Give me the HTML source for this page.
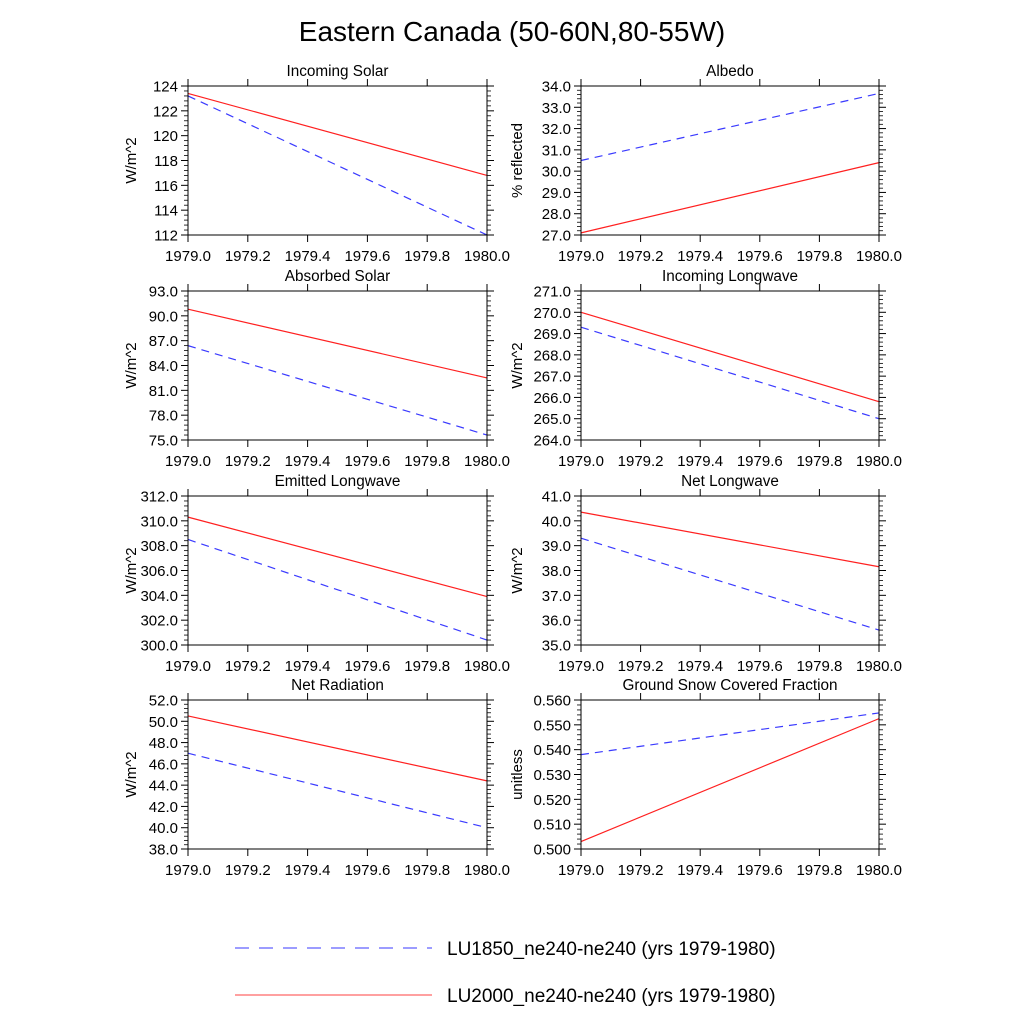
<!DOCTYPE html>
<html><head><meta charset="utf-8"><style>
html,body{margin:0;padding:0;background:#fff;}
svg{display:block;font-family:"Liberation Sans",sans-serif;}
</style></head><body>
<svg id="chart" width="1024" height="1024" viewBox="0 0 1024 1024" xmlns="http://www.w3.org/2000/svg">
<text x="512" y="41" text-anchor="middle" font-size="28">Eastern Canada (50-60N,80-55W)</text>
<g id="panels"></g>
<g>
<line x1="235" y1="948" x2="432" y2="948" stroke="#3a3aff" stroke-width="1" stroke-dasharray="14,10"/>
<text x="447" y="955" font-size="19">LU1850_ne240-ne240 (yrs 1979-1980)</text>
<line x1="235" y1="995" x2="432" y2="995" stroke="#ff4040" stroke-width="1"/>
<text x="447" y="1002" font-size="19">LU2000_ne240-ne240 (yrs 1979-1980)</text>
</g>
</svg>
<script>
const titles = ["Incoming Solar","Albedo","Absorbed Solar","Incoming Longwave","Emitted Longwave","Net Longwave","Net Radiation","Ground Snow Covered Fraction"];
const yLabels = ["W/m^2","% reflected","W/m^2","W/m^2","W/m^2","W/m^2","W/m^2","unitless"];
const yMins = [112,27,75,264,300,35,38,0.5];
const yMaxs = [124,34,93,271,312,41,52,0.56];
const yStep = [2,1,3,1,2,1,2,0.01];
const yDec = [0,1,1,1,1,1,1,3];
const xValues = [1979.0,1980.0];
const xTicks = [1979.0,1979.2,1979.4,1979.6,1979.8,1980.0];
const lu1850 = [[123.2,112.0],[30.5,33.65],[86.4,75.6],[269.3,265.0],[308.5,300.4],[39.3,35.6],[47.0,40.0],[0.538,0.5548]];
const lu2000 = [[123.4,116.8],[27.1,30.4],[90.8,82.5],[270.0,265.8],[310.3,303.9],[40.35,38.15],[50.5,44.4],[0.503,0.5525]];

const NS="http://www.w3.org/2000/svg";
const root=document.getElementById('panels');
function mk(tag,attrs,parent){const e=document.createElementNS(NS,tag);for(const k in attrs)e.setAttribute(k,attrs[k]);(parent||root).appendChild(e);return e;}
const colsX=[[188,487],[581,879]];
const rowsY=[[86,235],[291,440],[496,645],[700,849]];
for(let i=0;i<8;i++){
  const [x0,x1]=colsX[i%2], [y0,y1]=rowsY[Math.floor(i/2)];
  const g=mk('g',{});
  
  
  const sx=v=>x0+(v-xValues[0])/(xValues[1]-xValues[0])*(x1-x0);
  const sy=v=>y1-(v-yMins[i])/(yMaxs[i]-yMins[i])*(y1-y0);
  const t=mk('text',{x:(x0+x1)/2,y:y0-10,'text-anchor':'middle','font-size':15.3},g);t.textContent=titles[i];
  
  
  const n=Math.round((yMaxs[i]-yMins[i])/yStep[i]);
  for(let k=0;k<=n;k++){
    const v=yMins[i]+k*yStep[i], y=sy(v);
    mk('line',{x1:x0-7,y1:y,x2:x0,y2:y,stroke:'#000'},g);
    mk('line',{x1:x1,y1:y,x2:x1+7,y2:y,stroke:'#000'},g);
    const l=mk('text',{x:x0-10,y:y+5.5,'text-anchor':'end','font-size':15},g);l.textContent=v.toFixed(yDec[i]);
    
    
    if(k<n)for(let m=1;m<5;m++){const ym=sy(v+yStep[i]*m/5);
      mk('line',{x1:x0-4,y1:ym,x2:x0,y2:ym,stroke:'#000','stroke-width':0.8},g);
      mk('line',{x1:x1,y1:ym,x2:x1+4,y2:ym,stroke:'#000','stroke-width':0.8},g);}
  }
  xTicks.forEach((v,k)=>{const x=sx(v);
    mk('line',{x1:x,y1:y1,x2:x,y2:y1+7,stroke:'#000'},g);
    mk('line',{x1:x,y1:y0-7,x2:x,y2:y0,stroke:'#000'},g);
    const l=mk('text',{x:x,y:y1+26,'text-anchor':'middle','font-size':15},g);l.textContent=v.toFixed(1);
    
    
  });
  const yl=mk('text',{transform:`translate(${i%2?x0-59:x0-52},${(y0+y1)/2}) rotate(-90)`,'text-anchor':'middle','font-size':15},g);
  yl.textContent=yLabels[i];
  
  
  const b=mk('line',{x1:sx(xValues[0]),y1:sy(lu1850[i][0]),x2:sx(xValues[1]),y2:sy(lu1850[i][1]),stroke:'#3a3aff','stroke-width':1.2,'stroke-dasharray':'8,6'},g);
  
  
  const r=mk('line',{x1:sx(xValues[0]),y1:sy(lu2000[i][0]),x2:sx(xValues[1]),y2:sy(lu2000[i][1]),stroke:'#ff2020','stroke-width':1.2},g);
  
  
  const fr=mk('rect',{x:x0,y:y0,width:x1-x0,height:y1-y0,fill:'none',stroke:'#000','stroke-width':1},g);
  
  
}
</script>
</body></html>
